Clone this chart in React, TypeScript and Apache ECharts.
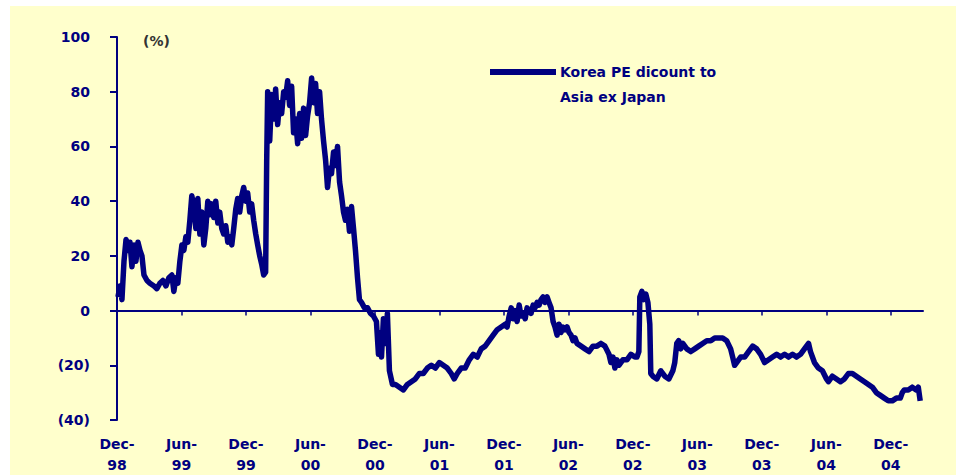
import React, { useEffect, useRef } from "react";
import * as echarts from "echarts";

// Months since Dec-98 and Korea PE discount (%) readings
const months = [
  0.09, 0.28, 0.46, 0.65, 0.84, 1.02, 1.21, 1.39, 1.58, 1.76, 1.95, 2.14, 2.32, 2.51, 2.79, 3.06, 3.44, 3.71, 3.99, 4.27,
  4.55, 4.83, 5.11, 5.29, 5.48, 5.66, 5.85, 6.04, 6.22, 6.41, 6.59, 6.78, 6.96, 7.15, 7.34, 7.52, 7.71, 7.89, 8.08, 8.26,
  8.45, 8.64, 8.82, 9.01, 9.19, 9.38, 9.56, 9.75, 9.93, 10.12, 10.31, 10.49, 10.68, 10.86, 11.05, 11.23, 11.42, 11.61, 11.79, 11.98,
  12.16, 12.35, 12.53, 12.72, 12.91, 13.09, 13.28, 13.46, 13.65, 13.83, 13.93, 14.02, 14.21, 14.39, 14.58, 14.76, 14.95, 15.13, 15.32, 15.51,
  15.69, 15.88, 16.06, 16.25, 16.43, 16.62, 16.81, 16.99, 17.18, 17.36, 17.55, 17.73, 17.92, 18.11, 18.29, 18.48, 18.66, 18.85, 19.03, 19.22,
  19.41, 19.59, 19.77, 19.96, 20.15, 20.33, 20.52, 20.71, 20.89, 21.08, 21.26, 21.45, 21.63, 21.82, 22.01, 22.19, 22.38, 22.56, 22.75, 23.03,
  23.31, 23.58, 23.86, 24.14, 24.33, 24.42, 24.61, 24.79, 24.98, 25.16, 25.35, 25.63, 25.91, 26.28, 26.65, 27.02, 27.39, 27.76, 28.13, 28.5,
  28.88, 29.25, 29.62, 29.99, 30.36, 30.73, 31.1, 31.38, 31.66, 32.03, 32.4, 32.78, 33.15, 33.52, 33.89, 34.26, 34.63, 35.0, 35.38, 35.75,
  36.12, 36.3, 36.49, 36.68, 36.86, 37.05, 37.23, 37.42, 37.6, 37.79, 37.98, 38.16, 38.35, 38.53, 38.72, 38.9, 39.09, 39.28, 39.46, 39.65,
  39.83, 40.02, 40.2, 40.39, 40.58, 40.76, 40.95, 41.13, 41.32, 41.5, 41.69, 41.88, 42.06, 42.25, 42.43, 42.62, 42.8, 43.18, 43.55, 43.92,
  44.29, 44.66, 45.03, 45.4, 45.78, 45.96, 46.15, 46.33, 46.52, 46.7, 47.07, 47.45, 47.82, 48.19, 48.38, 48.56, 48.65, 48.84, 49.02, 49.21,
  49.4, 49.58, 49.67, 49.86, 50.23, 50.6, 50.97, 51.35, 51.72, 51.9, 52.09, 52.27, 52.46, 52.65, 53.02, 53.39, 53.76, 54.13, 54.5, 54.88,
  55.25, 55.62, 55.99, 56.36, 56.73, 57.1, 57.29, 57.47, 57.66, 58.03, 58.4, 58.77, 59.15, 59.52, 59.89, 60.26, 60.63, 61.0, 61.38, 61.75,
  62.12, 62.49, 62.86, 63.23, 63.6, 63.97, 64.35, 64.53, 64.9, 65.27, 65.64, 66.02, 66.2, 66.57, 66.95, 67.32, 67.69, 68.06, 68.43, 68.8,
  69.17, 69.55, 69.92, 70.29, 70.66, 71.03, 71.4, 71.77, 72.14, 72.52, 72.89, 73.07, 73.26, 73.63, 74.0, 74.37, 74.56, 74.74,
];

const discount = [
  5, 9, 4, 18, 26, 22, 25, 16, 24, 18, 25, 22, 20, 13, 11, 10, 9, 8, 10, 11,
  9, 12, 13, 7, 12, 10, 18, 24, 22, 27, 25, 33, 42, 38, 30, 41, 28, 36, 24, 30,
  40, 35, 39, 34, 40, 32, 36, 30, 28, 31, 25, 27, 24, 30, 37, 41, 36, 42, 45, 40,
  43, 36, 39, 33, 28, 24, 20, 17, 13, 14, 55, 80, 62, 79, 70, 81, 68, 76, 72, 80,
  78, 84, 75, 82, 65, 70, 61, 72, 63, 74, 64, 71, 76, 85, 76, 83, 72, 80, 70, 62,
  55, 45, 52, 50, 58, 53, 60, 47, 42, 36, 33, 37, 29, 38, 30, 22, 12, 4, 3, 1,
  1, -1, -2, -4, -16, -8, -17, -3, -12, -1, -22, -27, -27, -28, -29, -27, -26, -25, -23, -23,
  -21, -20, -21, -19, -20, -21, -23, -25, -23, -21, -21, -18, -16, -17, -14, -13, -11, -9, -7, -6,
  -5, -6, -2, 1, -3, 0, -4, 2, -2, -1, -3, 1, 0, -1, 2, 1, 3, 2, 4, 5,
  3, 5, 3, 1, -4, -6, -9, -5, -8, -6, -7, -6, -8, -9, -11, -10, -12, -13, -14, -15,
  -13, -13, -12, -13, -16, -19, -17, -21, -18, -20, -18, -18, -16, -17, -17, -15, 5, 7, 4, 6,
  3, -5, -23, -24, -25, -22, -24, -25, -22, -19, -12, -11, -14, -12, -14, -15, -14, -13, -12, -11,
  -11, -10, -10, -10, -11, -14, -17, -20, -19, -17, -17, -15, -13, -14, -16, -19, -18, -17, -16, -17,
  -16, -17, -16, -17, -16, -14, -12, -15, -19, -21, -22, -25, -26, -24, -25, -26, -25, -23, -23, -24,
  -25, -26, -27, -28, -30, -31, -32, -33, -33, -32, -32, -30, -29, -29, -28, -29, -28, -33,
];

const tickMonths = [0, 6, 12, 18, 24, 30, 36, 42, 48, 54, 60, 66, 72];
const tickLabels = [
  "Dec-\n98", "Jun-\n99", "Dec-\n99", "Jun-\n00", "Dec-\n00", "Jun-\n01", "Dec-\n01",
  "Jun-\n02", "Dec-\n02", "Jun-\n03", "Dec-\n03", "Jun-\n04", "Dec-\n04",
];

const seriesName = "Korea PE dicount to Asia ex Japan";
const legendLine1 = "Korea PE dicount to";
const legendLine2 = "Asia ex Japan";
const unitLabel = "(%)";

const NAVY = "#000080";
const FONT = "DejaVu Sans";

export default function App() {
  const ref = useRef<HTMLDivElement>(null);

  useEffect(() => {
    if (!ref.current) return;
    const chart = echarts.init(ref.current, undefined, { renderer: "svg" });
    const data = months.map((m, i) => [m, discount[i]]);
    const labelFor = (v: number) => {
      const idx = tickMonths.indexOf(Math.round(v));
      return idx >= 0 ? tickLabels[idx] : "";
    };
    chart.setOption({
      animation: false,
      backgroundColor: "#FFFFCC",
      grid: { left: 107, right: 33, top: 31, bottom: 55 },
      xAxis: [
        {
          type: "value",
          min: 0,
          max: 75,
          interval: 6,
          position: "bottom",
          axisLine: { show: false, onZero: false },
          axisTick: { show: false },
          splitLine: { show: false },
          axisLabel: {
            customValues: tickMonths,
            formatter: (v: number) => labelFor(v),
            color: NAVY,
            fontFamily: FONT,
            fontWeight: "bold",
            fontSize: 14,
            lineHeight: 21,
            margin: 13,
          },
        },
        {
          type: "value",
          min: 0,
          max: 75,
          interval: 6,
          position: "bottom",
          axisLine: { show: true, onZero: true, lineStyle: { color: NAVY, width: 2 } },
          axisTick: { show: true, customValues: tickMonths, length: 5, inside: false, lineStyle: { color: NAVY, width: 1.5 } },
          axisLabel: { show: false },
          splitLine: { show: false },
        },
      ],
      yAxis: {
        type: "value",
        min: -40,
        max: 100,
        interval: 20,
        axisLine: { show: true, onZero: false, lineStyle: { color: NAVY, width: 2 } },
        axisTick: { show: true, length: 7, lineStyle: { color: NAVY, width: 2 } },
        splitLine: { show: false },
        axisLabel: {
          formatter: (v: number) => (v < 0 ? `(${-v})` : `${v}`),
          color: NAVY,
          fontFamily: FONT,
          fontWeight: "bold",
          fontSize: 14,
          margin: 27,
        },
      },
      series: [
        {
          name: seriesName,
          type: "line",
          xAxisIndex: 0,
          yAxisIndex: 0,
          data,
          symbol: "none",
          lineStyle: { color: NAVY, width: 5.5, join: "round" },
          z: 5,
        },
      ],
      graphic: [
        {
          type: "text",
          x: 133,
          y: 35,
          style: { text: unitLabel, fill: "#333333", font: `bold 14px "${FONT}"`, verticalAlign: "middle" },
        },
        {
          type: "rect",
          shape: { x: 480, y: 63, width: 66, height: 6 },
          style: { fill: NAVY },
        },
        {
          type: "text",
          x: 550,
          y: 66,
          style: { text: legendLine1, fill: NAVY, font: `bold 14px "${FONT}"`, verticalAlign: "middle" },
        },
        {
          type: "text",
          x: 550,
          y: 91,
          style: { text: legendLine2, fill: NAVY, font: `bold 14px "${FONT}"`, verticalAlign: "middle" },
        },
      ],
    });
    return () => chart.dispose();
  }, []);

  return (
    <div style={{ position: "fixed", left: 0, top: 0, width: 956, height: 475, background: "#ffffff" }}>
      <div ref={ref} style={{ position: "absolute", left: 10, top: 6, width: 946, height: 469 }} />
    </div>
  );
}
